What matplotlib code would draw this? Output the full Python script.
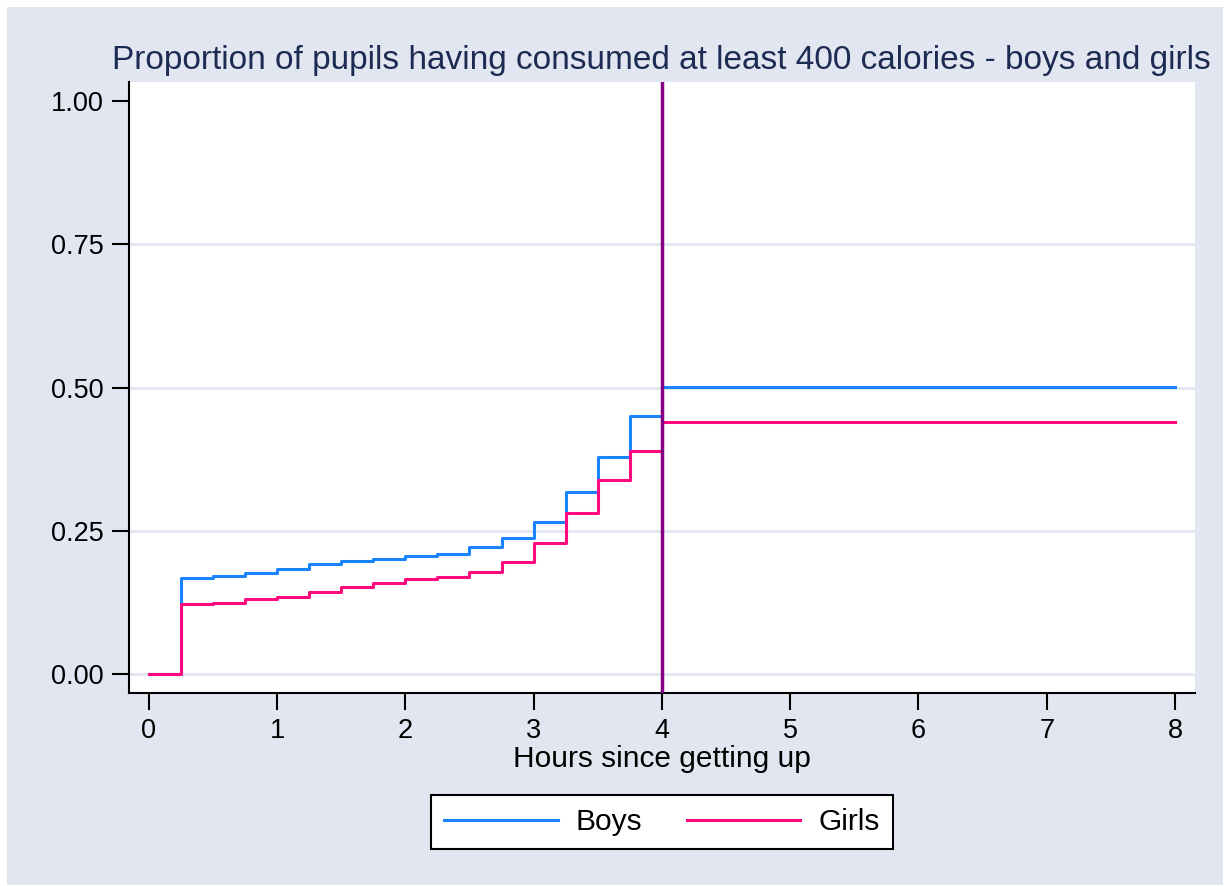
import numpy as np
import matplotlib.pyplot as plt
from matplotlib.patches import Rectangle

# Données : proportion cumulée par quart d'heure
hours = [0, 0.25, 0.5, 0.75, 1, 1.25, 1.5, 1.75, 2, 2.25, 2.5, 2.75,
         3, 3.25, 3.5, 3.75, 4, 8]
boys = [0, 0.167, 0.170, 0.175, 0.183, 0.192, 0.197, 0.201, 0.206,
        0.209, 0.222, 0.237, 0.265, 0.317, 0.378, 0.450, 0.501, 0.501]
girls = [0, 0.122, 0.124, 0.130, 0.134, 0.143, 0.151, 0.158, 0.166,
         0.169, 0.177, 0.195, 0.228, 0.280, 0.338, 0.389, 0.440, 0.440]
cutoff = 4
yticks = [0, 0.25, 0.5, 0.75, 1.0]
xticks = [0, 1, 2, 3, 4, 5, 6, 7, 8]

W, H = 1230, 886
bg = "#E1E6F0"
plt.rcParams["font.family"] = ["Liberation Sans", "DejaVu Sans"]

fig = plt.figure(figsize=(W / 100, H / 100), dpi=100, facecolor="white")
fig.patches.append(Rectangle((7 / W, 1 / H), 1216 / W, 878 / H,
                             transform=fig.transFigure, facecolor=bg,
                             edgecolor="none", zorder=-10))

# zone de tracé en pixels : x 129..1195, y 82..693
ax = fig.add_axes([129 / W, 1 - 693 / H, (1195 - 129) / W, (693 - 82) / H])
ax.set_facecolor("white")

ax.set_xlim(-0.154, 8.156)
ax.set_ylim(-0.034, 1.034)

# grille horizontale (sans la ligne du haut)
for v in yticks[:-1]:
    ax.axhline(v, color=bg, lw=2, zorder=1)

ax.step(hours, boys, where="post", color="#1A84FF", lw=2.2, label="Boys", zorder=3)
ax.step(hours, girls, where="post", color="#FF0A7E", lw=2.2, label="Girls", zorder=4)
ax.axvline(cutoff, color="#850085", lw=2.5, zorder=5)

ax.set_xticks(xticks)
ax.set_yticks(yticks)
ax.set_yticklabels([f"{v:.2f}" for v in yticks])
ax.tick_params(axis="both", direction="out", length=12, width=1.5,
               labelsize=19.5, colors="black", pad=6)

for side in ["top", "right"]:
    ax.spines[side].set_visible(False)
for side in ["left", "bottom"]:
    ax.spines[side].set_linewidth(1.5)

ax.set_xlabel("Hours since getting up", fontsize=21.5, labelpad=1)

fig.text(661 / W, 1 - 60 / H,
         "Proportion of pupils having consumed at least 400 calories - boys and girls",
         ha="center", va="center", fontsize=24, color="#1C2B52")

leg = fig.legend(loc="center", bbox_to_anchor=(662 / W, 1 - 822 / H), ncol=2,
                 fontsize=21.5, frameon=True, fancybox=False, handlelength=3.8,
                 handletextpad=0.6, columnspacing=1.5, borderpad=0.45,
                 borderaxespad=0)
leg.get_frame().set_edgecolor("black")
leg.get_frame().set_facecolor("white")
leg.get_frame().set_alpha(1)
leg.get_frame().set_linewidth(1.5)

fig.savefig("out.png", dpi=100, facecolor=fig.get_facecolor())
